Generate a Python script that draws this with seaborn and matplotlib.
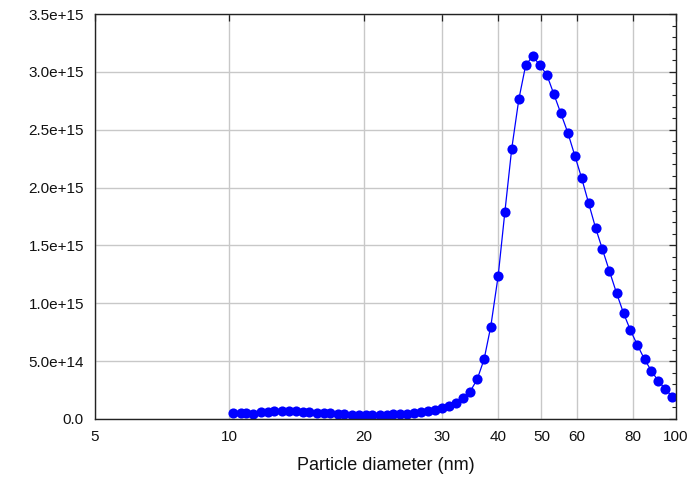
import numpy as np
import pandas as pd
import matplotlib

matplotlib.use("Agg")
import matplotlib.pyplot as plt
from matplotlib.ticker import FixedLocator, FuncFormatter, MultipleLocator, NullLocator
import seaborn as sns

# Particle size distribution (SMPS channel midpoints, nm)
diameter_nm = [
    10.2, 10.6, 10.9, 11.3, 11.8, 12.2, 12.6, 13.1, 13.6, 14.1,
    14.6, 15.1, 15.7, 16.3, 16.8, 17.5, 18.1, 18.8, 19.5, 20.2,
    20.9, 21.7, 22.5, 23.3, 24.1, 25.0, 25.9, 26.9, 27.9, 28.9,
    30.0, 31.1, 32.2, 33.4, 34.6, 35.9, 37.2, 38.5, 40.0, 41.4,
    42.9, 44.5, 46.1, 47.8, 49.6, 51.4, 53.3, 55.2, 57.3, 59.4,
    61.5, 63.8, 66.1, 68.5, 71.0, 73.7, 76.4, 79.1, 82.0, 85.1,
    88.2, 91.4, 94.7, 98.2,
]

# concentration, in units of 1e15
conc_e15 = [
    0.050, 0.052, 0.050, 0.042, 0.058, 0.060, 0.066, 0.070, 0.071, 0.068,
    0.064, 0.060, 0.056, 0.052, 0.050, 0.045, 0.040, 0.037, 0.035, 0.034,
    0.033, 0.034, 0.036, 0.039, 0.043, 0.047, 0.052, 0.058, 0.065, 0.074,
    0.092, 0.112, 0.136, 0.179, 0.236, 0.343, 0.516, 0.798, 1.236, 1.786,
    2.336, 2.763, 3.057, 3.137, 3.057, 2.976, 2.809, 2.647, 2.474, 2.276,
    2.085, 1.864, 1.653, 1.466, 1.279, 1.086, 0.913, 0.769, 0.640, 0.516,
    0.415, 0.328, 0.259, 0.193,
]

x_ticks = [5, 10, 20, 30, 40, 50, 60, 80, 100]

sns.set_theme(style="white")
plt.rcParams["font.family"] = ["Liberation Sans", "DejaVu Sans"]

df = pd.DataFrame({
    "diameter": diameter_nm,
    "conc": np.array(conc_e15) * 1e15,
})

fig = plt.figure(figsize=(6.91, 4.84), dpi=100)
ax = fig.add_axes([0.1375, 0.1343, 0.8405, 0.8367])

sns.lineplot(
    data=df, x="diameter", y="conc", ax=ax,
    color="#0000ff", linewidth=0.9,
    marker="o", markersize=7.3, markeredgewidth=0,
)

ax.set_xscale("log")
ax.set_xlim(5, 100)
ax.set_ylim(0, 3.5e15)

ax.xaxis.set_major_locator(FixedLocator(x_ticks))
ax.xaxis.set_major_formatter(FuncFormatter(lambda v, p: f"{v:g}"))
ax.xaxis.set_minor_locator(NullLocator())
ax.yaxis.set_major_locator(MultipleLocator(0.5e15))
ax.yaxis.set_minor_locator(MultipleLocator(0.1e15))
ax.yaxis.set_major_formatter(
    FuncFormatter(lambda v, p: "0.0" if v == 0 else f"{v:.1e}")
)

ax.grid(True, which="major", color="#c8c8c8", linewidth=1.0)
ax.set_axisbelow(True)

for s in ax.spines.values():
    s.set_color("#222222")
    s.set_linewidth(1.0)

ax.tick_params(axis="both", which="both", direction="in",
               top=True, right=True, colors="#222222",
               labelcolor="#111111", labelsize=11)
ax.tick_params(axis="both", which="major", length=5, width=0.9, pad=8)
ax.tick_params(axis="y", which="minor", length=3, width=0.8)

ax.set_xlabel("Particle diameter (nm)", fontsize=13, color="#111111", labelpad=9)
ax.set_ylabel("")

fig.savefig("out.png", dpi=100)
